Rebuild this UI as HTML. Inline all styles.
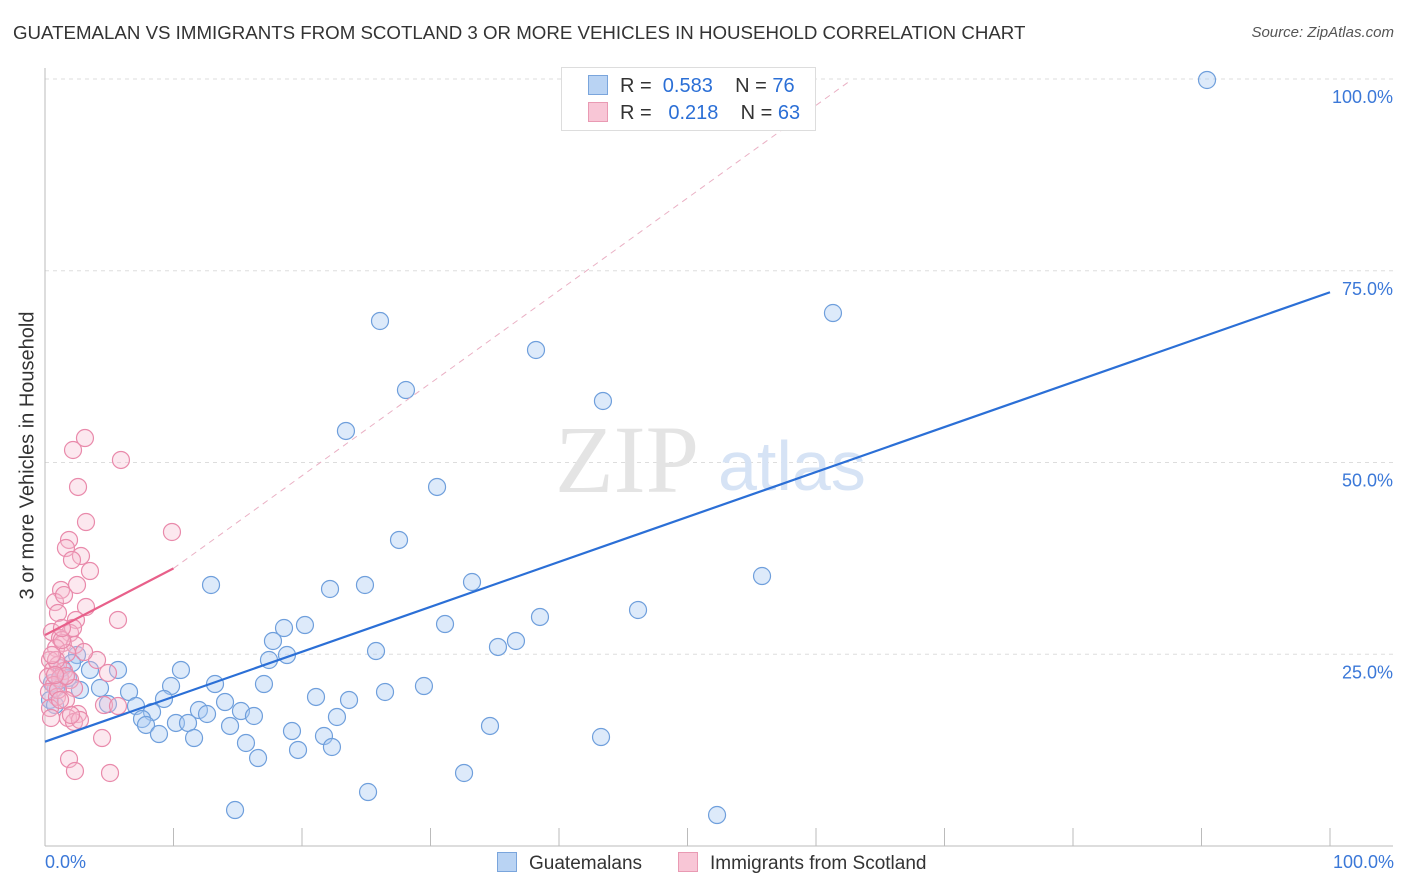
<!DOCTYPE html>
<html><head><meta charset="utf-8">
<style>
body{margin:0;background:#fff;font-family:"Liberation Sans",sans-serif;}
#wrap{position:relative;width:1406px;height:892px;overflow:hidden;}
.t{position:absolute;white-space:nowrap;}
</style></head><body>
<div id="wrap">
<div class="t" style="left:13px;top:22px;font-size:18.7px;color:#333;">GUATEMALAN VS IMMIGRANTS FROM SCOTLAND 3 OR MORE VEHICLES IN HOUSEHOLD CORRELATION CHART</div>
<div class="t" style="right:12px;top:24px;font-size:15px;color:#555;font-style:italic;">Source: ZipAtlas.com</div>
<div class="t" style="left:-122px;top:444px;font-size:20px;color:#333;transform:rotate(-90deg);transform-origin:center;width:300px;text-align:center;">3 or more Vehicles in Household</div>
<svg id="svg" width="1406" height="892" style="position:absolute;left:0;top:0"></svg>
</div>
<script>
const xTicks=[0,10,20,30,40,50,60,70,80,90,100];
const yTicks=[25,50,75,100];
const yTickLabels=["25.0%","50.0%","75.0%","100.0%"];
const blueLine=[13.6,72.2];
const pinkLine=[27.5,36.2];
const pinkLineEndX=10;
const dashEnd=[62.6,99.7];
const bluePx=[[1207,80],[380,321],[536,350],[833,313],[406,390],[603,401],[346,431],[437,487],[399,540],[762,576],[211,585],[330,589],[365,585],[472,582],[638,610],[540,617],[445,624],[284,628],[305,625],[273,641],[516,641],[498,647],[376,651],[287,655],[269,660],[77,655],[72,663],[90,670],[118,670],[181,670],[215,684],[264,684],[171,686],[424,686],[100,688],[129,692],[385,692],[56,688],[316,697],[164,699],[349,700],[225,702],[199,710],[241,711],[152,712],[108,704],[136,706],[207,714],[254,716],[337,717],[142,719],[176,723],[188,723],[146,725],[230,726],[292,731],[490,726],[159,734],[194,738],[324,736],[601,737],[246,743],[332,747],[298,750],[258,758],[464,773],[368,792],[235,810],[717,815],[60,680],[68,678],[52,683],[50,700],[62,668],[80,690],[55,705]];
const pinkPx=[[85,438],[73,450],[121,460],[78,487],[86,522],[172,532],[69,540],[66,548],[81,556],[72,560],[90,571],[77,585],[61,590],[55,602],[86,607],[58,613],[76,620],[118,620],[52,632],[70,633],[60,638],[63,643],[56,648],[75,645],[67,653],[50,660],[97,660],[58,665],[53,670],[64,671],[48,677],[60,678],[70,680],[108,673],[54,685],[74,688],[49,692],[57,697],[66,700],[104,705],[50,708],[118,706],[78,714],[68,718],[74,722],[80,720],[102,738],[69,759],[75,771],[110,773],[62,640],[56,660],[51,718],[58,690],[66,676],[84,652],[73,628],[62,628],[52,655],[60,700],[71,715],[55,675],[64,595]];
const blueX=bluePx.map(p=>+((p[0]-45)/12.85).toFixed(2)), blueY=bluePx.map(p=>+((846-p[1])/7.67).toFixed(2));
const pinkX=pinkPx.map(p=>+((p[0]-45)/12.85).toFixed(2)), pinkY=pinkPx.map(p=>+((846-p[1])/7.67).toFixed(2));
const X=v=>45+v*12.85, Y=v=>846-v*7.67;
const svg=document.getElementById('svg'),NS='http://www.w3.org/2000/svg';
function mk(t,a,name){const e=document.createElementNS(NS,t);for(const k in a)e.setAttribute(k,a[k]);


svg.appendChild(e);return e;}
yTicks.forEach((v,i)=>{mk('line',{x1:45,x2:1393,y1:Y(v),y2:Y(v),stroke:'#ddd','stroke-dasharray':'4,4'},'y-gridline');
const t=mk('text',{x:1393,y:Y(v)+24,'text-anchor':'end','font-size':18,fill:'#3b78d8','font-family':'Liberation Sans'},'y-tick-label');t.textContent=yTickLabels[i];});
mk('line',{x1:45,x2:45,y1:68,y2:846,stroke:'#bbb'},'y-axis');
mk('line',{x1:45,x2:1393,y1:846,y2:846,stroke:'#bbb'},'x-axis');
xTicks.forEach(v=>mk('line',{x1:X(v),x2:X(v),y1:828,y2:846,stroke:'#bbb'},'x-tick'));
let t=mk('text',{x:555,y:492,'font-size':96,fill:'#e4e4e4','font-family':'Liberation Serif'},'watermark-zip');t.textContent='ZIP';
t=mk('text',{x:718,y:490,'font-size':70,fill:'#d6e3f5','font-family':'Liberation Sans'},'watermark-atlas');t.textContent='atlas';
bluePx.forEach((p,i)=>mk('circle',{cx:X(blueX[i]),cy:Y(blueY[i]),r:8.5,fill:'rgba(170,202,242,0.4)',stroke:'#6f9fdc','stroke-width':1.2},'guatemalan-point'));
pinkPx.forEach((p,i)=>mk('circle',{cx:X(pinkX[i]),cy:Y(pinkY[i]),r:8.5,fill:'rgba(247,190,210,0.35)',stroke:'#e98aab','stroke-width':1.2},'scotland-point'));
mk('line',{x1:X(pinkLineEndX),y1:Y(pinkLine[1]),x2:X(dashEnd[0]),y2:Y(dashEnd[1]),stroke:'#eab0c4','stroke-dasharray':'6,5','stroke-width':1},'scotland-trend-extension');
mk('line',{x1:X(0),y1:Y(blueLine[0]),x2:X(100),y2:Y(blueLine[1]),stroke:'#2b6fd6','stroke-width':2.2},'guatemalan-trend-line');
mk('line',{x1:X(0),y1:Y(pinkLine[0]),x2:X(pinkLineEndX),y2:Y(pinkLine[1]),stroke:'#e8608a','stroke-width':2.2},'scotland-trend-line');
</script>
<div class="t" style="left:561px;top:67px;width:253px;height:62px;border:1px solid #ddd;background:#fff;"></div>
<div class="t" style="left:588px;top:75px;font-size:20px;color:#333;"><span style="display:inline-block;width:18px;height:18px;background:#b9d3f3;border:1px solid #7aa5dc;vertical-align:-3px;margin-right:12px"></span>R = <span style="color:#2b6fd6">&nbsp;0.583</span>&nbsp;&nbsp;&nbsp; N = <span style="color:#2b6fd6">76</span></div>
<div class="t" style="left:588px;top:102px;font-size:20px;color:#333;"><span style="display:inline-block;width:18px;height:18px;background:#f8c6d6;border:1px solid #e99ab3;vertical-align:-3px;margin-right:12px"></span>R = <span style="color:#2b6fd6">&nbsp; 0.218</span>&nbsp;&nbsp;&nbsp; N = <span style="color:#2b6fd6">63</span></div>
<div class="t" style="left:45px;top:852px;font-size:18px;color:#3b78d8;">0.0%</div>
<div class="t" style="right:12px;top:852px;font-size:18px;color:#3b78d8;">100.0%</div>
<div class="t" style="left:497px;top:852px;font-size:19px;color:#333;"><span style="display:inline-block;width:18px;height:18px;background:#b9d3f3;border:1px solid #7aa5dc;vertical-align:-3px;margin-right:12px"></span>Guatemalans</div>
<div class="t" style="left:678px;top:852px;font-size:19px;color:#333;"><span style="display:inline-block;width:18px;height:18px;background:#f8c6d6;border:1px solid #e99ab3;vertical-align:-3px;margin-right:12px"></span>Immigrants from Scotland</div>
</body></html>
